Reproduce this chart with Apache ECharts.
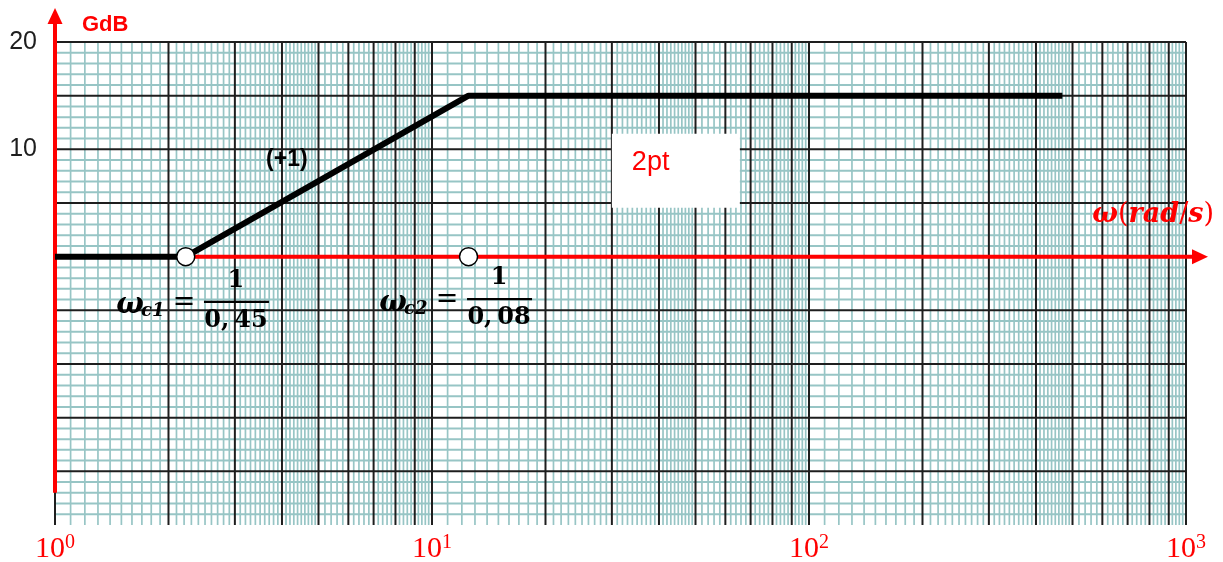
<!DOCTYPE html>
<html>
<head>
<meta charset="utf-8">
<script src="https://cdn.jsdelivr.net/npm/echarts@6/dist/echarts.min.js"></script>
<style>
  html, body { margin: 0; padding: 0; background: #fff; }
  #chart { width: 1223px; height: 562px; }
</style>
</head>
<body>
<div id="chart"></div>
<script>
// Asymptotic Bode magnitude plot of a lead term, drawn on 3-decade semi-log paper.

// ---- data ----
const tau1 = 0.45;                     // s, first time constant
const tau2 = 0.08;                     // s, second time constant
const breakTaus = [tau1, tau2];
const breakSubs = ['c1', 'c2'];
const asymOmega = [1, 1 / tau1, 1 / tau2, 470];   // rad/s
const asymGain = [0, 0, 15, 15];                   // dB
const slopeLabel = '(+1)';
const noteText = '2pt';
const xExponents = ['0', '1', '2', '3'];           // 10^0 … 10^3
const yTickValues = [20, 10];
const yTickLabels = ['20', '10'];

// ---- axis extents ----
const X_MIN = 1, X_MAX = 1000, Y_MIN = -25, Y_MAX = 20;

// ---- graph-paper rulings ----
const vMajor = [], vMinor = [];
for (let d = 1; d < X_MAX; d *= 10) {
  for (let m = 1; m <= 10; m++) vMajor.push(m * d);
  for (let k = 11; k < 50; k++) if (k % 10) vMinor.push(k / 10 * d);
  for (let k = 52; k < 100; k += 2) if (k % 10) vMinor.push(k / 10 * d);
}
const hMajor = [], hMinor = [];
for (let v = Y_MIN + 1; v <= Y_MAX; v++) (v % 5 === 0 ? hMajor : hMinor).push(v);

// ---- annotation placement (data coordinates) ----
const layout = {
  formulaAnchors: [[3.02, -4.2], [15.06, -3.95]],
  slopeAt: [4.12, 9.0],
  noteAt: [30.0, 11.45]
};

const RED = '#ff0000';
const TEAL = '#97c5c5';
const INK = '#1e1e1e';
const SERIF_MATH = '"DejaVu Serif", serif';

function verticalRule(color, width) {
  return function (params, api) {
    const x = api.value(0);
    const a = api.coord([x, Y_MIN]);
    const b = api.coord([x, Y_MAX]);
    return { type: 'line', shape: { x1: a[0], y1: a[1], x2: b[0], y2: b[1] },
             style: { stroke: color, lineWidth: width } };
  };
}
function horizontalRule(color, width) {
  return function (params, api) {
    const y = api.value(1);
    const a = api.coord([X_MIN, y]);
    const b = api.coord([X_MAX, y]);
    return { type: 'line', shape: { x1: a[0], y1: a[1], x2: b[0], y2: b[1] },
             style: { stroke: color, lineWidth: width } };
  };
}

// Red coordinate axes with arrow heads, plus their titles
function renderAxes(params, api) {
  const o = api.coord([X_MIN, 0]);
  const xEnd = api.coord([X_MAX, 0]);
  const yLow = api.coord([X_MIN, -22]);
  const yTop = api.coord([X_MIN, Y_MAX]);
  const xTip = xEnd[0] + 22, yTip = yTop[1] - 34;
  return { type: 'group', children: [
    { type: 'line', shape: { x1: o[0], y1: o[1], x2: xTip - 12, y2: o[1] },
      style: { stroke: RED, lineWidth: 4 } },
    { type: 'polygon', shape: { points: [[xTip, o[1]], [xTip - 16, o[1] - 7.5], [xTip - 16, o[1] + 7.5]] },
      style: { fill: RED } },
    { type: 'line', shape: { x1: o[0], y1: yLow[1], x2: o[0], y2: yTip + 12 },
      style: { stroke: RED, lineWidth: 4 } },
    { type: 'polygon', shape: { points: [[o[0], yTip], [o[0] - 7.5, yTip + 16], [o[0] + 7.5, yTip + 16]] },
      style: { fill: RED } },
    { type: 'text', x: o[0] + 27, y: yTop[1] - 17,
      style: { text: 'GdB', fill: RED, fontSize: 22, fontWeight: 'bold',
               fontFamily: '"Liberation Sans", Arial, sans-serif', align: 'left', verticalAlign: 'middle' } },
    { type: 'text', x: xEnd[0] + 28, y: o[1] - 42,
      style: { text: '{bi|ω}{r|(}{bi|rad}{r|/}{bi|s}{r|)}', align: 'right', verticalAlign: 'middle',
               rich: {
                 bi: { fill: RED, fontSize: 27, fontWeight: 'bold', fontStyle: 'italic', fontFamily: SERIF_MATH },
                 r: { fill: RED, fontSize: 27, fontFamily: SERIF_MATH }
               } } }
  ] };
}

// Break-frequency formulas  ω_ci = 1 / τi
function renderFormula(params, api) {
  const i = params.dataIndex;
  const p = api.coord([api.value(0), api.value(1)]);
  const den = String(breakTaus[i]).replace('.', ',\u2009');
  return { type: 'group', x: p[0], y: p[1], children: [
    { type: 'text', x: -106, y: 4,
      style: { text: 'ω', fill: '#000', fontSize: 29, fontWeight: 'bold', fontStyle: 'italic',
               fontFamily: SERIF_MATH, align: 'center', verticalAlign: 'middle' } },
    { type: 'text', x: -95, y: 10,
      style: { text: breakSubs[i], fill: '#000', fontSize: 18, fontWeight: 'bold', fontStyle: 'italic',
               fontFamily: SERIF_MATH, align: 'left', verticalAlign: 'middle' } },
    { type: 'text', x: -52, y: 1,
      style: { text: '=', fill: '#000', fontSize: 27, fontFamily: SERIF_MATH,
               align: 'center', verticalAlign: 'middle' } },
    { type: 'rect', shape: { x: -32, y: -1, width: 65, height: 2.2 }, style: { fill: '#000' } },
    { type: 'text', x: 0, y: -21,
      style: { text: '1', fill: '#000', fontSize: 24, fontWeight: 'bold', fontFamily: SERIF_MATH,
               align: 'center', verticalAlign: 'middle' } },
    { type: 'text', x: 0, y: 19,
      style: { text: den, fill: '#000', fontSize: 24, fontWeight: 'bold', fontFamily: SERIF_MATH,
               align: 'center', verticalAlign: 'middle' } }
  ] };
}

function renderSlope(params, api) {
  const p = api.coord([api.value(0), api.value(1)]);
  return { type: 'text', x: p[0], y: p[1],
    style: { text: slopeLabel, fill: '#000', fontSize: 23, fontWeight: 'bold',
             fontFamily: '"Liberation Sans", Arial, sans-serif', align: 'center', verticalAlign: 'middle' } };
}

function renderNote(params, api) {
  const p = api.coord([api.value(0), api.value(1)]);
  return { type: 'group', x: p[0], y: p[1], children: [
    { type: 'rect', shape: { x: 0, y: 0, width: 128, height: 74 }, style: { fill: '#fff' } },
    { type: 'text', x: 20, y: 29,
      style: { text: noteText, fill: RED, fontSize: 27, fontFamily: '"Liberation Sans", Arial, sans-serif',
               align: 'left', verticalAlign: 'middle' } }
  ] };
}

const chart = echarts.init(document.getElementById('chart'), null, { renderer: 'canvas' });
chart.setOption({
  animation: false,
  backgroundColor: '#fff',
  grid: { left: 55, right: 37, top: 42, bottom: 37, containLabel: false, outerBoundsMode: 'none' },
  xAxis: {
    type: 'log', logBase: 10, min: X_MIN, max: X_MAX,
    axisLine: { show: false }, axisTick: { show: false }, splitLine: { show: false },
    axisLabel: {
      margin: 8,
      formatter: function (v) {
        const e = xExponents[Math.round(Math.log10(v))];
        return '{b|10}{s|' + e + '}';
      },
      rich: {
        b: { color: RED, fontSize: 30, fontFamily: '"Liberation Serif", serif', lineHeight: 32 },
        s: { color: RED, fontSize: 20, fontFamily: '"Liberation Serif", serif', verticalAlign: 'top', lineHeight: 16 }
      }
    }
  },
  yAxis: {
    type: 'value', min: Y_MIN, max: Y_MAX, interval: 5,
    axisLine: { show: false }, axisTick: { show: false }, splitLine: { show: false },
    axisLabel: {
      margin: 18, color: INK, fontSize: 25, fontFamily: '"Liberation Sans", Arial, sans-serif',
      padding: [8, 0, 0, 0],
      formatter: function (v) {
        const i = yTickValues.indexOf(v);
        return i < 0 ? '' : yTickLabels[i];
      }
    }
  },
  series: [
    { type: 'custom', silent: true, z: 1, renderItem: verticalRule(TEAL, 1.7),
      data: vMinor.map(v => [v, 0]) },
    { type: 'custom', silent: true, z: 1, renderItem: horizontalRule(TEAL, 2),
      data: hMinor.map(v => [X_MIN, v]) },
    { type: 'custom', silent: true, z: 2, renderItem: verticalRule(INK, 2),
      data: vMajor.map(v => [v, 0]) },
    { type: 'custom', silent: true, z: 2, renderItem: horizontalRule(INK, 2),
      data: hMajor.map(v => [X_MIN, v]) },
    { type: 'custom', silent: true, z: 3, renderItem: renderNote, data: [layout.noteAt] },
    { type: 'custom', silent: true, z: 4, renderItem: renderAxes, data: [[X_MIN, 0]] },
    { type: 'line', silent: true, z: 5, symbol: 'none',
      lineStyle: { color: '#000', width: 6 },
      data: asymOmega.map((w, i) => [w, asymGain[i]]) },
    { type: 'scatter', silent: true, z: 6, symbol: 'circle', symbolSize: 18,
      itemStyle: { color: '#fff', borderColor: '#000', borderWidth: 1.5, opacity: 1 },
      data: breakTaus.map(t => [1 / t, 0]) },
    { type: 'custom', silent: true, z: 6, renderItem: renderSlope, data: [layout.slopeAt] },
    { type: 'custom', silent: true, z: 6, renderItem: renderFormula, data: layout.formulaAnchors }
  ]
});
</script>
</body>
</html>
